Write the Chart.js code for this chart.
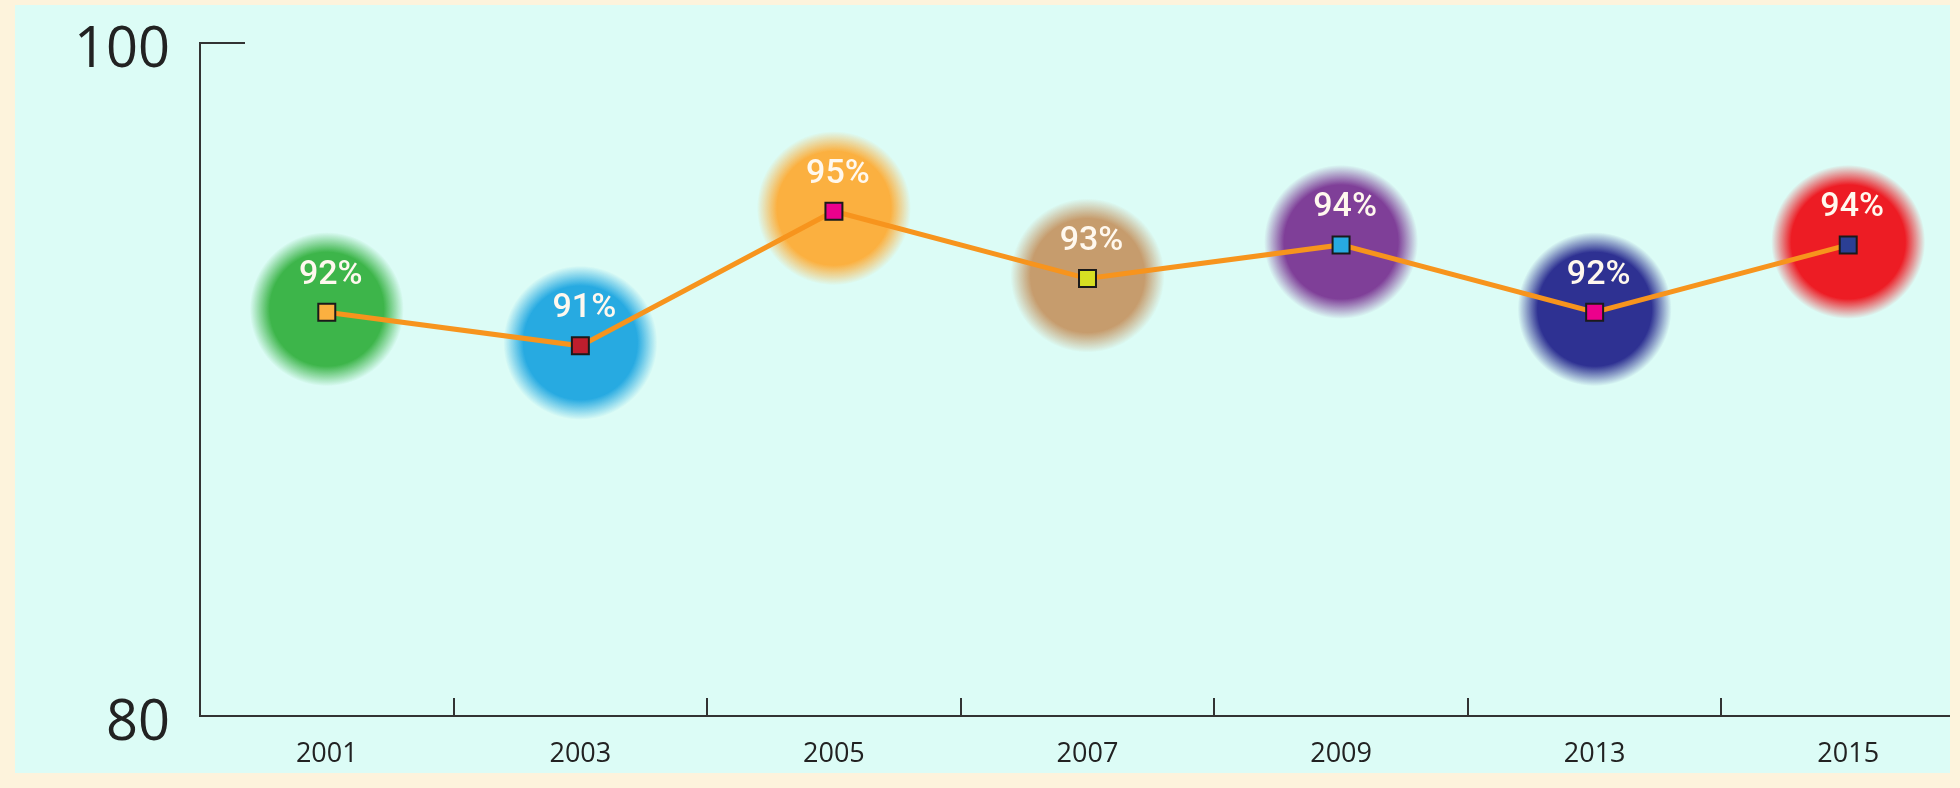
<!DOCTYPE html>
<html lang="en">
  <head>
    <meta charset="UTF-8" />
    <title>Rate by year</title>
    <script src="https://cdn.jsdelivr.net/npm/chart.js"></script>
    <style>
      body {
        margin: 0;
        width: 1960px;
        height: 788px;
        overflow: hidden;
        background-color: #fdf3dc;
      }

      /* Light panel inside the cream frame; the plot runs a bit past its right edge */
      .panel {
        position: absolute;
        left: 15px;
        top: 5px;
        width: 1935px;
        height: 768px;
        background-color: #dcfcf6;
        overflow: hidden;
      }

      .chart-box {
        position: relative;
        width: 1980px;
        height: 768px;
      }
    </style>
  </head>
  <body>
    <div class="panel">
      <div class="chart-box">
        <canvas id="rateChart"></canvas>
      </div>
    </div>

    <script>
      // Data
      const years = ["2001", "2003", "2005", "2007", "2009", "2013", "2015"];
      const rates = [92, 91, 95, 93, 94, 92, 94];
      const yTicks = [80, 100];

      // Colours of the soft discs behind each point, and of the square markers
      const discColors = ["#3db54a", "#27aae1", "#fbb040", "#c69c6d", "#7f3f98", "#2e3192", "#ed1c24"];
      const markerColors = ["#fbb040", "#be1e2d", "#ec008c", "#d7df23", "#27aae1", "#ec008c", "#2b3f94"];

      const AXIS_COLOR = "#333333";

      const toClear = (hex) => {
        const n = parseInt(hex.slice(1), 16);
        return `rgba(${(n >> 16) & 255}, ${(n >> 8) & 255}, ${n & 255}, 0)`;
      };

      // Blurry coloured discs under the line
      const discs = {
        id: "discs",
        beforeDatasetsDraw(chart) {
          const ctx = chart.ctx;
          const meta = chart.getDatasetMeta(0);
          ctx.save();
          meta.data.forEach((pt, i) => {
            const r = 77;
            const g = ctx.createRadialGradient(pt.x, pt.y - 3, 0, pt.x, pt.y - 3, r);
            g.addColorStop(0, discColors[i]);
            g.addColorStop(0.74, discColors[i]);
            g.addColorStop(1, toClear(discColors[i]));
            ctx.fillStyle = g;
            ctx.beginPath();
            ctx.arc(pt.x, pt.y - 3, r, 0, Math.PI * 2);
            ctx.fill();
          });
          ctx.restore();
        },
      };

      // Percent labels above each point
      const valueLabels = {
        id: "valueLabels",
        afterDatasetsDraw(chart) {
          const ctx = chart.ctx;
          const meta = chart.getDatasetMeta(0);
          ctx.save();
          ctx.font = "500 34px Roboto";
          ctx.fillStyle = "#fff8ee";
          ctx.textAlign = "center";
          ctx.textBaseline = "middle";
          meta.data.forEach((pt, i) => {
            ctx.fillText(rates[i] + "%", pt.x + 4, pt.y - 37);
          });
          ctx.restore();
        },
      };

      // Inward tick marks: between categories on x, and at the top value on y
      const axisTicks = {
        id: "axisTicks",
        afterDraw(chart) {
          const { ctx, chartArea, scales } = chart;
          const x = scales.x;
          const y = scales.y;
          ctx.save();
          ctx.strokeStyle = AXIS_COLOR;
          ctx.lineWidth = 2;
          ctx.beginPath();
          for (let i = 1; i < years.length; i++) {
            const px = Math.round((x.getPixelForValue(i - 1) + x.getPixelForValue(i)) / 2);
            ctx.moveTo(px, chartArea.bottom);
            ctx.lineTo(px, chartArea.bottom - 18);
          }
          const top = Math.round(y.getPixelForValue(yTicks[yTicks.length - 1]));
          ctx.moveTo(chartArea.left - 1, top);
          ctx.lineTo(chartArea.left + 45, top);
          ctx.stroke();
          ctx.restore();
        },
      };

      const ctx = document.getElementById("rateChart").getContext("2d");
      const rateChart = new Chart(ctx, {
        type: "line",
        data: {
          labels: years,
          datasets: [
            {
              data: rates,
              borderColor: "#f7941d",
              borderWidth: 5,
              tension: 0,
              pointStyle: "rect",
              pointRadius: 12,
              pointBackgroundColor: markerColors,
              pointBorderColor: "#1a1a1a",
              pointBorderWidth: 2,
            },
          ],
        },
        options: {
          responsive: true,
          maintainAspectRatio: false,
          animation: false,
          layout: {
            padding: { top: 38, right: 20, left: 0, bottom: 0 },
          },
          plugins: {
            legend: { display: false },
            tooltip: { enabled: false },
          },
          scales: {
            x: {
              offset: true,
              grid: { display: false, drawTicks: false },
              border: { display: true, color: AXIS_COLOR, width: 2 },
              ticks: {
                color: "#222",
                padding: 22,
                font: { family: "'Open Sans'", size: 27 },
              },
              afterFit: (s) => {
                s.height = 57;
              },
            },
            y: {
              min: 80,
              max: 100,
              grid: { display: false, drawTicks: false },
              border: { display: true, color: AXIS_COLOR, width: 2 },
              afterBuildTicks: (s) => {
                s.ticks = yTicks.map((v) => ({ value: v }));
              },
              ticks: {
                color: "#222",
                padding: 30,
                labelOffset: 8,
                font: { family: "'Open Sans'", size: 56 },
              },
              afterFit: (s) => {
                s.width = 185;
                // the big tick labels must not push the plot area in
                s.paddingTop = 0;
                s.paddingBottom = 0;
              },
            },
          },
        },
        plugins: [discs, valueLabels, axisTicks],
      });
    </script>
  </body>
</html>
